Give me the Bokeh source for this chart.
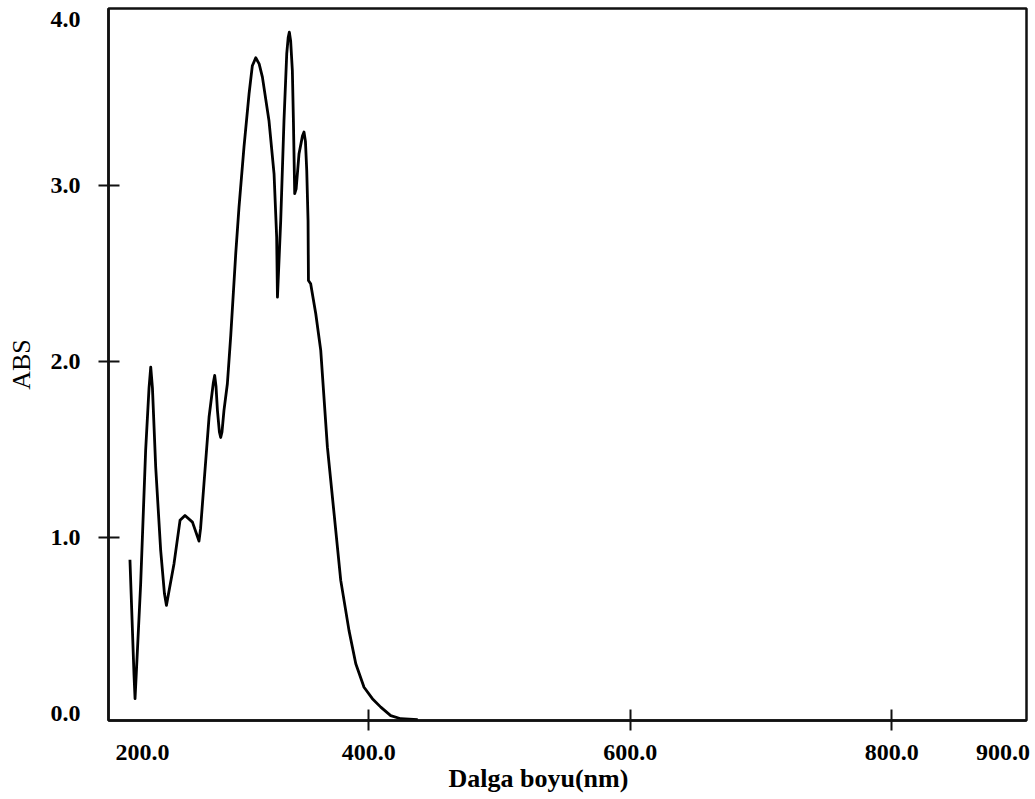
from bokeh.plotting import figure
from bokeh.models import FixedTicker, Range1d, Title
from bokeh.embed import file_html
from bokeh.resources import INLINE

# Absorbance spectrum
wavelength_nm = [217.4, 220.5, 221.3, 222.4, 225.6, 229.4, 232.0, 233.3, 234.6, 237.1,
                 240.9, 243.8, 245.3, 246.9, 251.1, 255.7, 259.5, 265.2, 268.8, 270.2,
                 271.4, 274.0, 277.9, 281.2, 282.2, 283.2, 284.3, 285.8, 286.8, 287.8,
                 289.3, 291.9, 294.5, 298.3, 300.8, 304.6, 308.5, 311.0, 313.6, 316.2,
                 318.7, 323.7, 327.6, 329.6, 330.2, 332.7, 335.2, 337.3, 338.4, 339.3,
                 340.3, 341.6, 342.4, 343.4, 344.5, 346.7, 349.3, 350.5, 351.6, 352.6,
                 353.6, 353.9, 355.6, 359.5, 363.3, 368.4, 373.5, 378.6, 384.9, 390.1,
                 396.4, 402.8, 409.2, 416.8, 424.5, 437.5]
absorbance = [0.873, 0.220, 0.084, 0.250, 0.737, 1.494, 1.850, 1.968, 1.850, 1.399,
              0.926, 0.680, 0.614, 0.680, 0.851, 1.097, 1.125, 1.087, 1.010, 0.979,
              1.050, 1.305, 1.684, 1.880, 1.920, 1.860, 1.722, 1.600, 1.568, 1.600,
              1.722, 1.873, 2.148, 2.612, 2.877, 3.218, 3.521, 3.680, 3.725, 3.690,
              3.615, 3.369, 3.066, 2.706, 2.365, 2.801, 3.369, 3.748, 3.840, 3.871,
              3.820, 3.653, 3.369, 2.953, 2.980, 3.180, 3.280, 3.303, 3.250, 3.085,
              2.801, 2.460, 2.441, 2.271, 2.063, 1.513, 1.135, 0.756, 0.472, 0.282,
              0.149, 0.084, 0.036, -0.012, -0.030, -0.035]

x_label_values = [227, 400, 600, 800, 885]
x_tick_labels = ["200.0", "400.0", "600.0", "800.0", "900.0"]
x_tick_marks = [400, 600, 800]
y_label_values = [0, 1, 2, 3, 3.94]
y_tick_labels = ["0.0", "1.0", "2.0", "3.0", "4.0"]
y_tick_marks = [1, 2, 3]
x_title = "Dalga boyu(nm)"
y_title = "ABS"

FONT = "Liberation Serif"

p = figure(width=1035, height=799, output_backend="svg", toolbar_location=None,
           x_range=Range1d(201, 903), y_range=Range1d(-0.04, 4.005),
           min_border_left=108, min_border_right=9, min_border_top=8, min_border_bottom=79)

p.line(wavelength_nm, absorbance, line_color="black", line_width=2.8,
       line_join="round")

p.grid.visible = False
p.outline_line_color = "#111111"
p.outline_line_width = 2.5
p.background_fill_color = "white"
p.border_fill_color = "white"

xa = p.xaxis[0]
xa.ticker = FixedTicker(ticks=x_label_values, minor_ticks=x_tick_marks)
xa.major_label_overrides = {v: t for v, t in zip(x_label_values, x_tick_labels)}

ya = p.yaxis[0]
ya.ticker = FixedTicker(ticks=y_label_values, minor_ticks=y_tick_marks)
ya.major_label_overrides = {v: t for v, t in zip(y_label_values, y_tick_labels)}
ya.axis_label = y_title
ya.axis_label_text_font = FONT
ya.axis_label_text_font_style = "normal"
ya.axis_label_text_font_size = "26px"
ya.axis_label_standoff = 12

for ax, standoff in ((xa, 14), (ya, 18)):
    ax.axis_line_color = "#111111"
    ax.axis_line_width = 2.5
    ax.major_tick_line_color = None
    ax.major_tick_in = 0
    ax.major_tick_out = 0
    ax.minor_tick_line_color = "#111111"
    ax.minor_tick_line_width = 2
    ax.minor_tick_in = 11
    ax.minor_tick_out = 10
    ax.major_label_text_font = FONT
    ax.major_label_text_font_style = "bold"
    ax.major_label_text_font_size = "24px"
    ax.major_label_text_color = "black"
    ax.axis_label_text_color = "black"
    ax.major_label_standoff = standoff

# x-axis title below the axis, left of centre as in the reference
p.add_layout(Title(text=x_title, align="left", offset=340, standoff=0,
                   vertical_align="middle", text_font=FONT, text_font_style="bold",
                   text_font_size="26px", text_color="black"), "below")

open("out.html", "w").write(file_html(p, INLINE))
